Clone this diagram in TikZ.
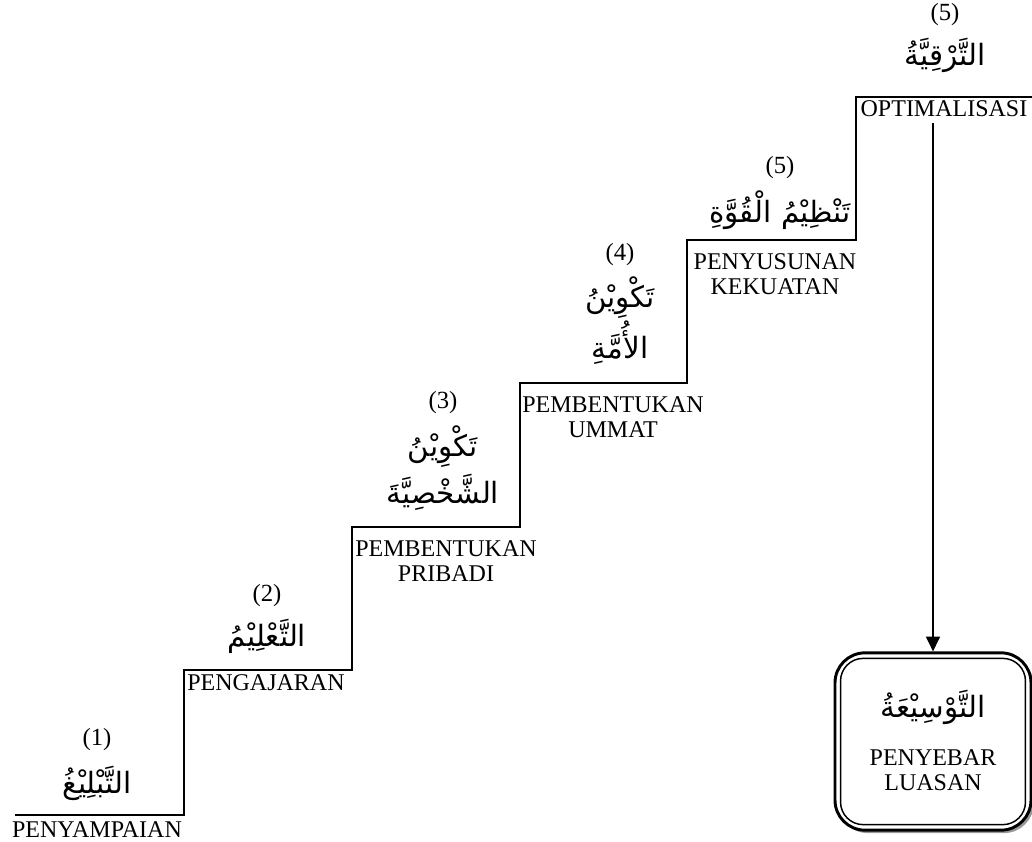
\documentclass[tikz,border=0pt]{standalone}
\usepackage{fontspec}
\setmainfont{Liberation Serif}
\newfontfamily\arabicfont[Script=Arabic]{DejaVu Sans}
\TeXXeTstate=1
\usetikzlibrary{shadows,arrows.meta}
\newcommand{\arabtxt}[1]{{\arabicfont\beginR #1\endR}}
\begin{document}
\begin{tikzpicture}[x=0.75pt,y=-0.75pt,
  stairline/.style={line width=1.4pt},
  lbl/.style={inner sep=0pt,align=center,font=\fontsize{18}{18.75}\selectfont},
  num/.style={inner sep=0pt,font=\fontsize{18.5}{20}\selectfont},
  arb/.style={inner sep=0pt,font=\fontsize{22}{24}\arabicfont},
  flow/.style={line width=1.1pt,-{Triangle[length=11pt,width=10.5pt]}},
  outerbox/.style={draw,line width=2.2pt,rounded corners=22.5pt,fill=white,
    minimum width=147pt,minimum height=133pt,inner sep=0pt,
    drop shadow={shadow xshift=2.2pt,shadow yshift=-2.2pt,fill=black!40,opacity=1}},
  innerline/.style={line width=1.1pt,rounded corners=17pt}]
\useasboundingbox (0,0) rectangle (1032,842);

% staircase
\draw[stairline] (15,815) -| (184,670) -| (352,527) -| (520,383)
  -| (687,240) -| (856,97) -- (1032,97);

% step 1
\node[num] (n1) at (97,740) {(1)};
\node[arb] (a1) at (97,783) {\arabtxt{التَّبْلِيْغُ}};
\node[lbl] (l1) at (97,830) {PENYAMPAIAN};

% step 2
\node[num] (n2) at (267,596) {(2)};
\node[arb] (a2) at (267,636) {\arabtxt{التَّعْلِيْمُ}};
\node[lbl] (l2) at (266,683) {PENGAJARAN};

% step 3
\node[num] (n3) at (443,403) {(3)};
\node[arb] (a3a) at (443,447) {\arabtxt{تَكْوِيْنُ}};
\node[arb] (a3b) at (443,492) {\arabtxt{الشَّخْصِيَّةَ}};
\node[lbl] (l3) at (446,561) {PEMBENTUKAN\\PRIBADI};

% step 4
\node[num] (n4) at (620,255) {(4)};
\node[arb] (a4a) at (620,298) {\arabtxt{تَكْوِيْنُ}};
\node[arb] (a4b) at (620,343) {\arabtxt{الأُمَّةِ}};
\node[lbl] (l4) at (613,417) {PEMBENTUKAN\\UMMAT};

% step 5
\node[num] (n5) at (780,168) {(5)};
\node[arb] (a5) at (780,210) {\arabtxt{تَنْظِيْمُ الْقُوَّةِ}};
\node[lbl] (l5) at (775,274) {PENYUSUNAN\\KEKUATAN};

% top step
\node[num] (n6) at (945,15) {(5)};
\node[arb] (a6) at (945,55) {\arabtxt{التَّرْقِيَّةُ}};
\node[lbl] (l6) at (944,109) {OPTIMALISASI};

% final box
\node[outerbox] (box) at (933,741.5) {};
\draw[innerline] ([shift={(7,7)}]box.north west) rectangle ([shift={(-7,-7)}]box.south east);
\node[arb] (a7) at (933,707) {\arabtxt{التَّوْسِيْعَةُ}};
\node[lbl] (l7) at (933,770) {PENYEBAR\\LUASAN};

% connector
\draw[flow] (l6.south -| box.north) ++(0,6) coordinate (fromtop) -- (box.north);
\end{tikzpicture}
\end{document}
